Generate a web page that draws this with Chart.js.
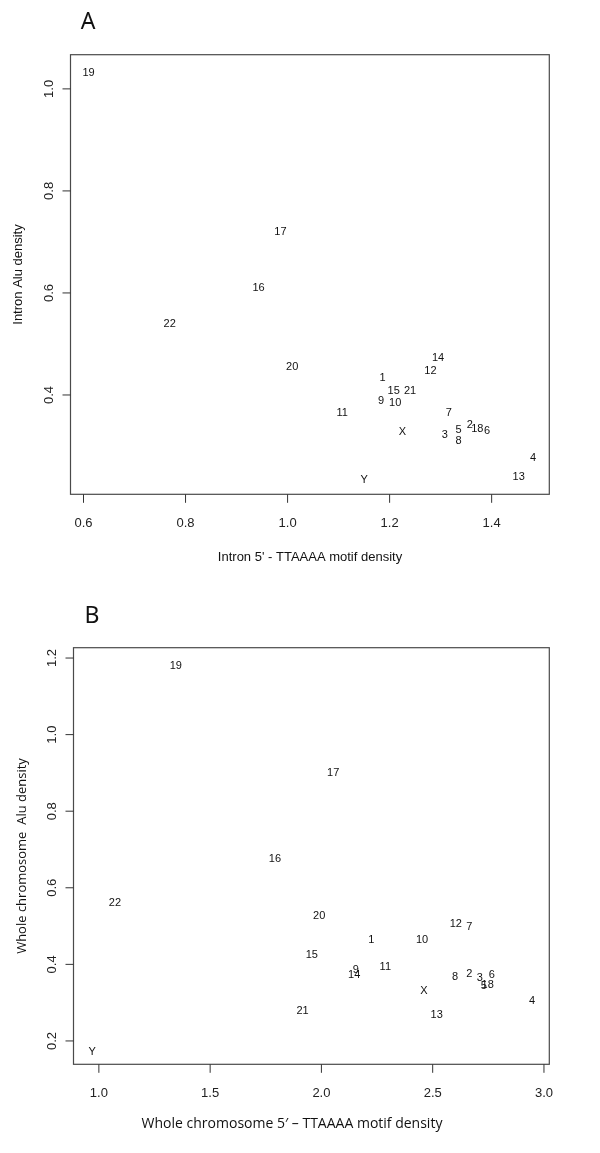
<!DOCTYPE html>
<html>
<head>
<meta charset="utf-8">
<script src="https://cdn.jsdelivr.net/npm/chart.js@4/dist/chart.umd.min.js"></script>
<style>
  html, body { margin: 0; padding: 0; background: #fff; }
  body { width: 600px; height: 1153px; position: relative; overflow: hidden; }
  canvas { position: absolute; left: 0; }
  #cA { top: 0; }
  #cB { top: 576px; }
</style>
</head>
<body>
<canvas id="cA" width="600" height="576"></canvas>
<canvas id="cB" width="600" height="577"></canvas>
<script>
// ---- data ----
const chromosomes = ['1','2','3','4','5','6','7','8','9','10','11','12','13','14','15','16','17','18','19','20','21','22','X','Y'];

// Panel A: intron values
const intronMotif = [1.186, 1.357, 1.308, 1.481, 1.335, 1.391, 1.316, 1.335, 1.183, 1.211, 1.107, 1.280, 1.453, 1.295, 1.208, 0.943, 0.986, 1.372, 0.610, 1.009, 1.240, 0.769, 1.225, 1.150];
const intronAlu   = [0.433, 0.341, 0.322, 0.277, 0.331, 0.330, 0.364, 0.310, 0.389, 0.385, 0.364, 0.447, 0.239, 0.472, 0.408, 0.609, 0.720, 0.333, 1.031, 0.454, 0.408, 0.539, 0.328, 0.233];

// Panel B: whole chromosome values
const wholeMotif = [2.224, 2.664, 2.712, 2.947, 2.730, 2.766, 2.664, 2.601, 2.154, 2.452, 2.287, 2.604, 2.518, 2.147, 1.957, 1.791, 2.053, 2.747, 1.346, 1.990, 1.915, 1.072, 2.461, 0.970];
const wholeAlu   = [0.464, 0.376, 0.365, 0.305, 0.344, 0.372, 0.498, 0.367, 0.385, 0.464, 0.394, 0.506, 0.267, 0.373, 0.424, 0.674, 0.899, 0.345, 1.180, 0.527, 0.278, 0.560, 0.331, 0.172];

// tick labels
const xTicksA = ['0.6', '0.8', '1.0', '1.2', '1.4'];
const yTicksA = ['0.4', '0.6', '0.8', '1.0'];
const xTicksB = ['1.0', '1.5', '2.0', '2.5', '3.0'];
const yTicksB = ['0.2', '0.4', '0.6', '0.8', '1.0', '1.2'];

const TICK_FONT = '13px "Liberation Sans", Arial, sans-serif';
const PT_FONT = '11px "Liberation Sans", Arial, sans-serif';

function makePlugin(cfg) {
  return {
    id: 'rplot' + cfg.panel,
    afterDatasetsDraw(chart) {
      const ctx = chart.ctx;
      const ca = chart.chartArea;
      const xs = chart.scales.x, ys = chart.scales.y;
      ctx.save();
      // box
      ctx.strokeStyle = '#4a4a4a';
      ctx.lineWidth = 1.2;
      ctx.strokeRect(ca.left, ca.top, ca.right - ca.left, ca.bottom - ca.top);
      ctx.strokeStyle = '#333';
      ctx.lineWidth = 1;
      ctx.fillStyle = '#222';
      ctx.font = TICK_FONT;
      // x ticks
      ctx.textAlign = 'center';
      ctx.textBaseline = 'middle';
      cfg.xTicks.forEach(t => {
        const px = xs.getPixelForValue(parseFloat(t));
        ctx.beginPath();
        ctx.moveTo(px, ca.bottom);
        ctx.lineTo(px, ca.bottom + 8.5);
        ctx.stroke();
        ctx.fillText(t, px, ca.bottom + 29);
      });
      // y ticks (rotated labels)
      cfg.yTicks.forEach(t => {
        const py = ys.getPixelForValue(parseFloat(t));
        ctx.beginPath();
        ctx.moveTo(ca.left, py);
        ctx.lineTo(ca.left - 8, py);
        ctx.stroke();
        ctx.save();
        ctx.translate(ca.left - 21, py);
        ctx.rotate(-Math.PI / 2);
        ctx.fillText(t, 0, 0);
        ctx.restore();
      });
      // axis titles
      ctx.fillStyle = '#111';
      ctx.font = cfg.xTitleFont;
      ctx.fillText(cfg.xTitle, cfg.xTitleX, ca.bottom + cfg.xTitleDy);
      ctx.save();
      ctx.font = cfg.yTitleFont;
      ctx.translate(cfg.yTitleX, (ca.top + ca.bottom) / 2);
      ctx.rotate(-Math.PI / 2);
      ctx.fillText(cfg.yTitle, 0, 0);
      ctx.restore();
      // panel letter
      ctx.font = '23px "Noto Sans", "Open Sans", sans-serif';
      ctx.fillText(cfg.panel, cfg.letterX, cfg.letterY);
      // point labels
      ctx.font = PT_FONT;
      ctx.fillStyle = '#111';
      const meta = chart.getDatasetMeta(0);
      meta.data.forEach((el, i) => {
        ctx.fillText(chromosomes[i], el.x, el.y);
      });
      ctx.restore();
    }
  };
}

function makeChart(id, xv, yv, xr, yr, pad, cfg) {
  const pts = xv.map((v, i) => ({ x: v, y: yv[i] }));
  return new Chart(document.getElementById(id), {
    type: 'scatter',
    data: { datasets: [{ data: pts, pointRadius: 0, pointHoverRadius: 0 }] },
    options: {
      responsive: false,
      animation: false,
      events: [],
      layout: { padding: pad },
      plugins: { legend: { display: false }, tooltip: { enabled: false } },
      scales: {
        x: { type: 'linear', display: false, min: xr[0], max: xr[1] },
        y: { type: 'linear', display: false, min: yr[0], max: yr[1] }
      }
    },
    plugins: [makePlugin(cfg)]
  });
}

makeChart('cA', intronMotif, intronAlu, [0.5745, 1.513], [0.2053, 1.067],
  { left: 70.5, top: 54.7, right: 50.7, bottom: 576 - 494.3 },
  {
    panel: 'A', xTicks: xTicksA, yTicks: yTicksA,
    xTitle: "Intron 5' - TTAAAA motif density", xTitleFont: '13px "Liberation Sans", Arial, sans-serif',
    xTitleX: 310, xTitleDy: 63,
    yTitle: 'Intron Alu density', yTitleFont: '13px "Liberation Sans", Arial, sans-serif', yTitleX: 18,
    letterX: 88, letterY: 22
  });

makeChart('cB', wholeMotif, wholeAlu, [0.886, 3.024], [0.139, 1.227],
  { left: 73.5, top: 647.7 - 576, right: 50.7, bottom: 577 - (1064.3 - 576) },
  {
    panel: 'B', xTicks: xTicksB, yTicks: yTicksB,
    xTitle: 'Whole chromosome 5\u2032 \u2013 TTAAAA motif density', xTitleFont: '14px "Open Sans", "Noto Sans", sans-serif',
    xTitleX: 292, xTitleDy: 60,
    yTitle: 'Whole chromosome  Alu density', yTitleFont: '13px "Open Sans", "Noto Sans", sans-serif', yTitleX: 22,
    letterX: 92, letterY: 616 - 576
  });
</script>
</body>
</html>
